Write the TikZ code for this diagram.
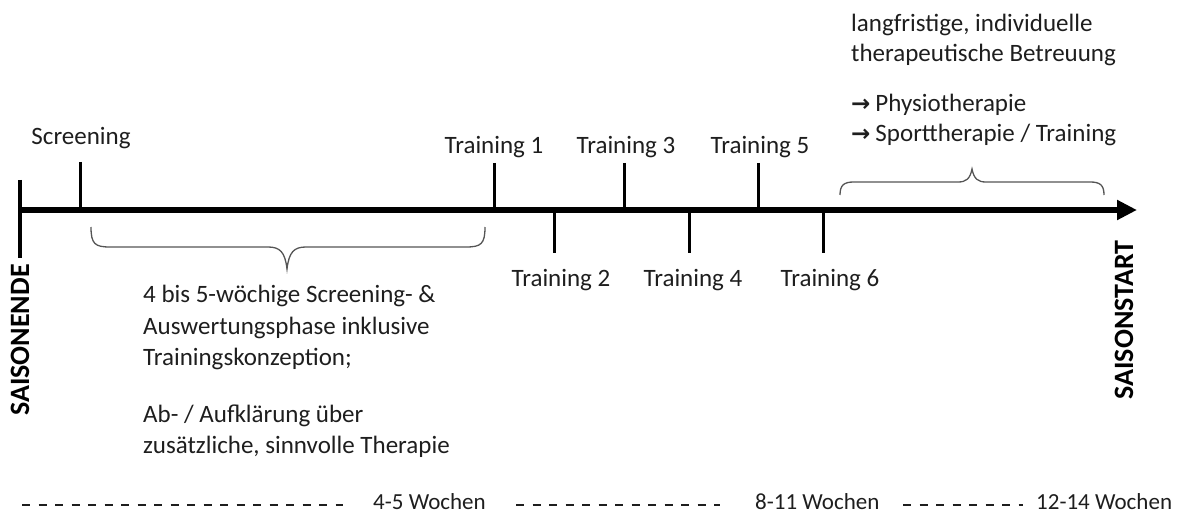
\documentclass[tikz,border=0pt]{standalone}
\usepackage{fontspec}
\setmainfont{Carlito}
\newfontfamily\symfont{DejaVu Sans}
\usetikzlibrary{arrows.meta}
\definecolor{txt}{HTML}{1E1E1E}
\definecolor{brc}{HTML}{555555}
\tikzset{
  lbl/.style={inner sep=0pt, anchor=base, text=txt, font=\fontsize{25}{30}\selectfont},
  para/.style={inner sep=0pt, anchor=base west, text=txt, font=\fontsize{25}{30}\selectfont},
  wk/.style={inner sep=0pt, anchor=base west, text=txt, font=\fontsize{23}{28}\selectfont},
  big/.style={inner sep=0pt, rotate=90, text=black, font=\fontsize{28}{32}\selectfont\bfseries},
  tick/.style={line width=3pt},
  bracestyle/.style={draw=brc, line width=1.3pt},
  dsh/.style={line width=1.6pt, dash pattern=on 8pt off 8.5pt, draw=txt}
}
\newcommand{\arr}{{\symfont\bfseries\fontsize{23}{30}\selectfont →}\hspace{5pt}}
\begin{document}
\begin{tikzpicture}[x=1pt,y=-1pt]
\useasboundingbox (0,0) rectangle (1190,513);
% axis
\coordinate (a0) at (20,210);
\coordinate (a1) at (1137,210);
\draw[line width=5.5pt,-{Triangle[length=20pt,width=19pt]}] (a0) -- (a1);
\draw[line width=3.5pt] (20,180) -- (20,258);
% ticks up
\coordinate (ts) at (80,162);   \draw[tick] (ts) -- (80,210);
\coordinate (t1) at (494,163);  \draw[tick] (t1) -- (494,210);
\coordinate (t3) at (624,163);  \draw[tick] (t3) -- (624,210);
\coordinate (t5) at (758,163);  \draw[tick] (t5) -- (758,210);
% ticks down
\coordinate (t2) at (554,253);  \draw[tick] (554,210) -- (t2);
\coordinate (t4) at (689,253);  \draw[tick] (689,210) -- (t4);
\coordinate (t6) at (823,253);  \draw[tick] (823,210) -- (t6);
% labels
\node[lbl] (ls) at (81,145) {Screening};
\node[lbl] (l1) at (494,154) {Training 1};
\node[lbl] (l3) at (626,154) {Training 3};
\node[lbl] (l5) at (760,154) {Training 5};
\node[lbl] (l2) at (561,286) {Training 2};
\node[lbl] (l4) at (693,286) {Training 4};
\node[lbl] (l6) at (830,286) {Training 6};
% vertical labels
\node[big] (se) at (20,340) {SAISONENDE};
\node[big] (ss) at (1124,320) {SAISONSTART};
% lower brace
\draw[bracestyle] (91,227) .. controls (91,244) and (95,247) .. (110,247) -- (268,247)
  .. controls (280,247) and (285,252) .. (287,269)
  .. controls (289,252) and (294,247) .. (306,247) -- (466,247)
  .. controls (481,247) and (485,244) .. (485,227);
% upper brace
\draw[bracestyle] (840,195) .. controls (840,185) and (844,182) .. (854,182) -- (958,182)
  .. controls (966,182) and (970,179) .. (972,169)
  .. controls (974,179) and (978,182) .. (986,182) -- (1090,182)
  .. controls (1100,182) and (1104,185) .. (1104,195);
% paragraph
\node[para] (p1) at (143,302) {4 bis 5-wöchige Screening- \&};
\node[para] (p2) at (143,334) {Auswertungsphase inklusive};
\node[para] (p3) at (143,365) {Trainingskonzeption;};
\node[para] (p4) at (143,422) {Ab- / Aufklärung über};
\node[para] (p5) at (143,453) {zusätzliche, sinnvolle Therapie};
% top right
\node[para] (r1) at (851,32) {langfristige, individuelle};
\node[para] (r2) at (851,62) {therapeutische Betreuung};
\node[para] (r3) at (851,112) {\arr Physiotherapie};
\node[para] (r4) at (851,142) {\arr Sporttherapie / Training};
% weeks row
\coordinate (d1a) at (22,505);  \coordinate (d1b) at (343,505);
\coordinate (d2a) at (516,505); \coordinate (d2b) at (720,505);
\coordinate (d3a) at (903,505); \coordinate (d3b) at (1023,505);
\draw[dsh] (d1a) -- (d1b);
\draw[dsh] (d2a) -- (d2b);
\draw[dsh] (d3a) -- (d3b);
\node[wk] (w1) at (373,509) {4-5 Wochen};
\node[wk] (w2) at (755,509) {8-11 Wochen};
\node[wk] (w3) at (1036,509) {12-14 Wochen};
\end{tikzpicture}
\end{document}
